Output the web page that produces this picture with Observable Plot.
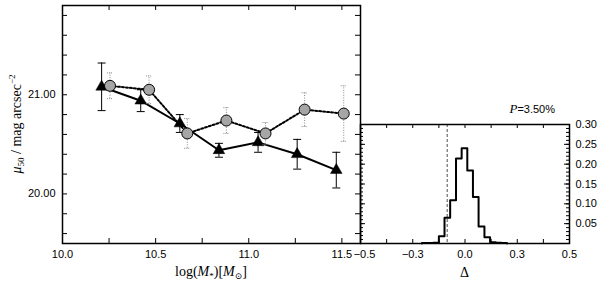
<!DOCTYPE html>
<html><head><meta charset="utf-8">
<script src="https://cdn.jsdelivr.net/npm/d3@7"></script>
<script src="https://cdn.jsdelivr.net/npm/@observablehq/plot@0.6"></script>
<style>
body{margin:0;background:#fff;}
#chart{position:relative;width:600px;height:281px;}
#chart svg{position:absolute;left:0;top:0;}
</style></head><body><div id="chart"></div>
<script>
// ---- main panel data ----
const massTri = [10.21, 10.42, 10.63, 10.84, 11.05, 11.26, 11.47];
const muTri   = [21.08, 20.94, 20.71, 20.44, 20.52, 20.40, 20.24];
const errTri  = [0.24, 0.11, 0.09, 0.07, 0.10, 0.15, 0.18];
const massCirc = [10.255, 10.465, 10.67, 10.88, 11.09, 11.30, 11.51];
const muCirc   = [21.09, 21.05, 20.61, 20.74, 20.61, 20.85, 20.81];
const errCirc  = [0.13, 0.14, 0.15, 0.13, 0.11, 0.17, 0.28];
const xTickLabels = [10.0, 10.5, 11.0, 11.5];
const xTicks = [10.0, 10.25, 10.5, 10.75, 11.0, 11.25, 11.5];
const yTickLabels = [20.0, 21.0];
const yTicks = [19.6, 19.8, 20.0, 20.2, 20.4, 20.6, 20.8, 21.0, 21.2, 21.4, 21.6, 21.8];
// ---- histogram data ----
const binStart = [-0.206, -0.179, -0.152, -0.125, -0.098, -0.071, -0.043, -0.016, 0.011, 0.038, 0.065, 0.093, 0.120, 0.147, 0.174];
const binHeight = [0.001, 0.001, 0.002, 0.018, 0.065, 0.109, 0.214, 0.240, 0.184, 0.117, 0.043, 0.016, 0.003, 0.002, 0.001];
const binEnd = 0.201;
const deltaObs = -0.085;
const pText = "3.50%";
const hxTickValues = [-0.5, -0.25, 0.0, 0.25, 0.5];
const hxTickText = ["\u22120.5", "\u22120.3", "0.0", "0.3", "0.5"];
const hxTicks = [-0.5, -0.375, -0.25, -0.125, 0, 0.125, 0.25, 0.375, 0.5];
const hyTickLabels = [0.05, 0.10, 0.15, 0.20, 0.25, 0.30];
const hyMinor = d3.range(1, 30).map(i => i / 100);

const W = 600, H = 281;
const main = {l: 62, r: 240, t: 5, b: 38};
const hist = {l: 360, r: 31, t: 124, b: 38};
const mainIH = H - main.t - main.b, mainIW = W - main.l - main.r;
const histIH = H - hist.t - hist.b, histIW = W - hist.l - hist.r;

const tri = massTri.map((x, i) => ({x, y: muTri[i], e: errTri[i]}));
const circ = massCirc.map((x, i) => ({x, y: muCirc[i], e: errCirc[i]}));

const cap = {draw(ctx, size) { const w = Math.sqrt(size / Math.PI); ctx.moveTo(-w, 0); ctx.lineTo(w, 0); }};
const style = {background: "transparent", fontFamily: "'Liberation Sans', Arial, sans-serif", fontSize: "11px", color: "black"};

const p1 = Plot.plot({
  width: W, height: H,
  marginLeft: main.l, marginRight: main.r, marginTop: main.t, marginBottom: main.b,
  x: {domain: [10.0, 11.6]},
  y: {domain: [19.5, 21.9]},
  style,
  marks: [
    Plot.tickX(xTicks, {x: d => d, insetTop: mainIH - 5, stroke: "black"}),
    Plot.tickX(xTicks, {x: d => d, insetBottom: mainIH - 5, stroke: "black"}),
    Plot.tickY(yTicks, {y: d => d, insetRight: mainIW - 5, stroke: "black"}),
    Plot.tickY(yTicks, {y: d => d, insetLeft: mainIW - 5, stroke: "black"}),
    Plot.axisX(xTickLabels, {tickSize: 0, tickPadding: 7, label: null, tickFormat: d => d.toFixed(1), fontSize: 11}),
    Plot.axisY(yTickLabels, {tickSize: 0, tickPadding: 7, label: null, tickFormat: d => d.toFixed(2), fontSize: 11}),
    // triangles series
    Plot.ruleX(tri, {x: "x", y1: d => d.y - d.e, y2: d => d.y + d.e, stroke: "black", strokeWidth: 1}),
    Plot.dot(tri, {x: "x", y: d => d.y - d.e, symbol: cap, r: 4, stroke: "black", strokeWidth: 1}),
    Plot.dot(tri, {x: "x", y: d => d.y + d.e, symbol: cap, r: 4, stroke: "black", strokeWidth: 1}),
    Plot.line(tri, {x: "x", y: "y", stroke: "black", strokeWidth: 2}),
    Plot.dot(tri, {x: "x", y: "y", symbol: "triangle", r: 4.3, fill: "black", stroke: "black", strokeWidth: 0.5}),
    // circles series
    Plot.ruleX(circ, {x: "x", y1: d => d.y - d.e, y2: d => d.y + d.e, stroke: "#888", strokeWidth: 1, strokeDasharray: "1,1.5"}),
    Plot.dot(circ, {x: "x", y: d => d.y - d.e, symbol: cap, r: 3, stroke: "#888", strokeWidth: 1, strokeDasharray: "1,1"}),
    Plot.dot(circ, {x: "x", y: d => d.y + d.e, symbol: cap, r: 3, stroke: "#888", strokeWidth: 1, strokeDasharray: "1,1"}),
    Plot.line(circ, {x: "x", y: "y", stroke: "black", strokeWidth: 2, strokeDasharray: "2,2"}),
    Plot.dot(circ, {x: "x", y: "y", r: 5.5, fill: "#a6a6a6", stroke: "black", strokeWidth: 1}),
    Plot.frame({stroke: "black", strokeWidth: 1.5})
  ]
});

const steps = [{x: binStart[0], y: 0}]
  .concat(binStart.map((x, i) => ({x, y: binHeight[i]})))
  .concat([{x: binEnd, y: binHeight[binHeight.length - 1]}, {x: binEnd, y: 0}]);

const p2 = Plot.plot({
  width: W, height: H,
  marginLeft: hist.l, marginRight: hist.r, marginTop: hist.t, marginBottom: hist.b,
  x: {domain: [-0.5, 0.5]},
  y: {domain: [0, 0.30]},
  style,
  marks: [
    Plot.tickX(hxTicks, {x: d => d, insetTop: histIH - 4, stroke: "black"}),
    Plot.tickX(hxTicks, {x: d => d, insetBottom: histIH - 4, stroke: "black"}),
    Plot.tickY(hyMinor, {y: d => d, insetRight: histIW - 3, stroke: "black"}),
    Plot.tickY(hyMinor, {y: d => d, insetLeft: histIW - 3, stroke: "black"}),
    Plot.tickY(hyTickLabels, {y: d => d, insetRight: histIW - 5, stroke: "black"}),
    Plot.tickY(hyTickLabels, {y: d => d, insetLeft: histIW - 5, stroke: "black"}),
    Plot.axisX(hxTickValues.slice(0, 1), {tickSize: 0, tickPadding: 7, dx: 4, label: null, tickFormat: d => hxTickText[hxTickValues.indexOf(d)], fontSize: 11}),
    Plot.axisX(hxTickValues.slice(1), {tickSize: 0, tickPadding: 7, label: null, tickFormat: d => hxTickText[hxTickValues.indexOf(d)], fontSize: 11}),
    Plot.axisY(hyTickLabels, {anchor: "right", tickSize: 0, tickPadding: 6, label: null, tickFormat: d => d.toFixed(2), fontSize: 11}),
    Plot.ruleX([deltaObs], {x: d => d, stroke: "#777", strokeWidth: 1.3, strokeDasharray: "3,2"}),
    Plot.line(steps, {x: "x", y: "y", curve: "step-after", stroke: "black", strokeWidth: 2}),
    Plot.frame({stroke: "black", strokeWidth: 1.5})
  ]
});

const chart = document.getElementById("chart");
chart.appendChild(p1);
chart.appendChild(p2);

// axis titles and annotation as real text
const svg = d3.select(p2);
const serif = "'Liberation Serif', 'DejaVu Serif', serif";
const yl = svg.append("text")
  .attr("transform", `translate(21,${main.t + mainIH / 2}) rotate(-90)`)
  .attr("text-anchor", "middle").attr("font-family", serif).attr("font-size", 14).attr("fill", "black");
yl.append("tspan").attr("font-style", "italic").text("\u03bc");
yl.append("tspan").attr("font-size", 9).attr("dy", 3).text("50");
yl.append("tspan").attr("dy", -3).text(" / mag arcsec");
yl.append("tspan").attr("font-size", 9).attr("dy", -6).text("\u22122");

const xl = svg.append("text")
  .attr("x", main.l + mainIW / 2).attr("y", 276)
  .attr("text-anchor", "middle").attr("font-family", serif).attr("font-size", 14).attr("fill", "black");
xl.append("tspan").text("log(");
xl.append("tspan").attr("font-style", "italic").text("M");
xl.append("tspan").attr("font-size", 9).attr("dy", 3).text("*");
xl.append("tspan").attr("dy", -3).text(")[");
xl.append("tspan").attr("font-style", "italic").text("M");
xl.append("tspan").attr("font-size", 9).attr("dy", 3).text("\u2299");
xl.append("tspan").attr("dy", -3).text("]");

svg.append("text")
  .attr("x", hist.l + histIW / 2).attr("y", 277)
  .attr("text-anchor", "middle").attr("font-family", serif).attr("font-size", 14).attr("fill", "black")
  .text("\u0394");

const pt = svg.append("text")
  .attr("x", 555).attr("y", 113)
  .attr("text-anchor", "end").attr("font-size", 11).attr("fill", "black")
  .attr("font-family", "'Liberation Sans', Arial, sans-serif");
pt.append("tspan").attr("font-family", serif).attr("font-style", "italic").attr("font-size", 13).text("P");
pt.append("tspan").text("=" + pText);
</script></body></html>
